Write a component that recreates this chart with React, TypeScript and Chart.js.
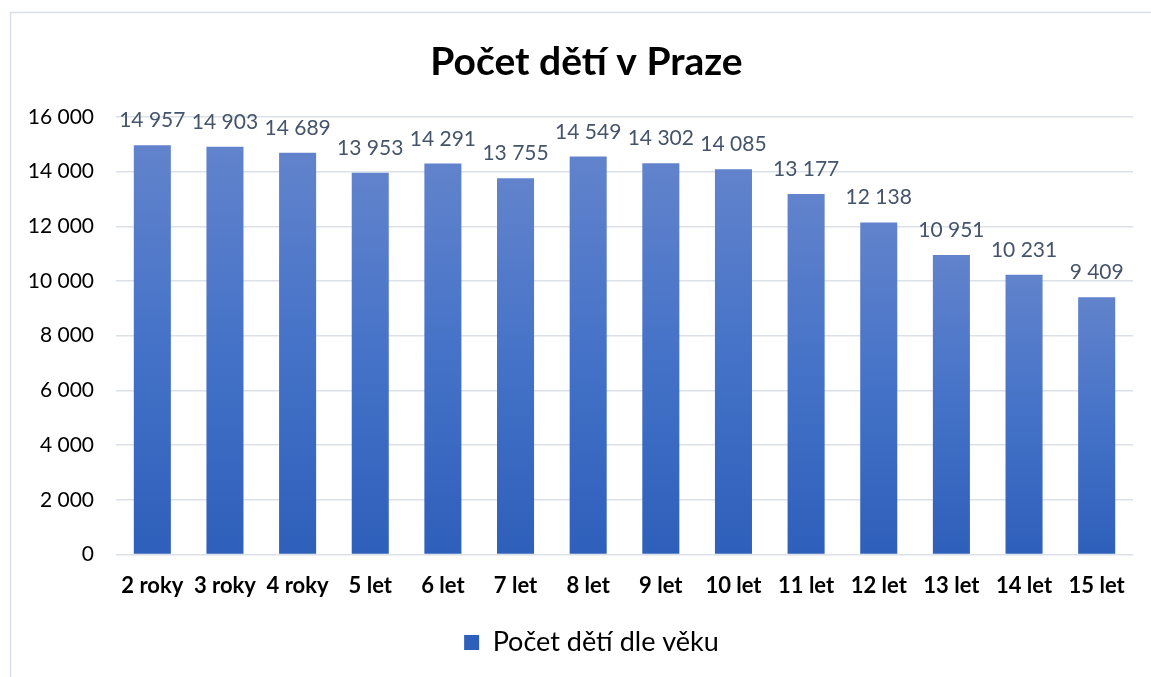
import React, { useEffect, useRef } from "react";
import { Chart, registerables } from "chart.js";

Chart.register(...registerables);

const categories = ["2 roky", "3 roky", "4 roky", "5 let", "6 let", "7 let", "8 let", "9 let", "10 let", "11 let", "12 let", "13 let", "14 let", "15 let"];
const values = [14957, 14903, 14689, 13953, 14291, 13755, 14549, 14302, 14085, 13177, 12138, 10951, 10231, 9409];
const seriesName = "Počet dětí dle věku";
const chartTitle = "Počet dětí v Praze";
const yMin = 0;
const yMax = 16000;
const yStep = 2000;

const FONT = "Lato, 'Open Sans', sans-serif";
const fmt = (v: number) => String(Math.round(v)).replace(/\B(?=(\d{3})+(?!\d))/g, " ");

const frameAndLabels = {
  id: "frameAndLabels",
  afterLayout(chart: any) {
    const t = chart.titleBlock;
    if (t) {
      t.left += 15;
      t.right += 15;
    }
    const l = chart.legend;
    if (l) {
      l.left += 20;
      l.right += 20;
      l.top -= 0;
      l.bottom -= 0;
    }
  },
  beforeDraw(chart: any) {
    const c = chart.ctx;
    c.save();
    c.fillStyle = "#ffffff";
    c.fillRect(0, 0, chart.width, chart.height);
    c.strokeStyle = "#D9DEE8";
    c.lineWidth = 1.5;
    c.beginPath();
    c.moveTo(10.5, chart.height);
    c.lineTo(10.5, 12.5);
    c.lineTo(chart.width, 12.5);
    c.stroke();
    c.restore();
  },
  afterDatasetsDraw(chart: any) {
    const c = chart.ctx;
    const meta = chart.getDatasetMeta(0);
    c.save();
    c.font = `21px ${FONT}`;
    c.fillStyle = "#44546A";
    c.textAlign = "center";
    c.textBaseline = "alphabetic";
    meta.data.forEach((el: any, i: number) => {
      c.fillText(fmt(values[i]), el.x, el.y - 18);
    });
    c.restore();
  },
};

export default function App() {
  const ref = useRef<HTMLCanvasElement>(null);
  useEffect(() => {
    document.body.style.margin = "0";
    document.body.style.overflow = "hidden";
    const canvas = ref.current!;
    const chart = new Chart(canvas, {
      type: "bar",
      data: {
        labels: categories,
        datasets: [
          {
            label: seriesName,
            data: values,
            backgroundColor: (ctx: any) => {
              const ch = ctx.chart;
              if (!ch.chartArea || ctx.type !== "data") return "#4A72C6";
              const yTop = ch.scales.y.getPixelForValue(ctx.raw);
              const yBot = ch.scales.y.getPixelForValue(0);
              const g = ch.ctx.createLinearGradient(0, yTop, 0, yBot);
              g.addColorStop(0, "#6283CC");
              g.addColorStop(0.5, "#4472C8");
              g.addColorStop(1, "#2E5FBA");
              return g;
            },
            borderWidth: 0,
            barPercentage: 0.51,
            categoryPercentage: 1,
          },
        ],
      },
      options: {
        responsive: false,
        animation: false,
        layout: { padding: { left: 10, right: 18, top: 0, bottom: 11 } },
        plugins: {
          title: {
            display: true,
            text: chartTitle,
            color: "#000000",
            font: { family: FONT, size: 39, weight: "bold" },
            padding: { top: 39, bottom: 31 },
          },
          legend: {
            position: "bottom",
            labels: {
              color: "#000000",
              font: { family: FONT, size: 27 },
              boxWidth: 15,
              boxHeight: 15,
              padding: 20,
            },
          },
          tooltip: { enabled: false },
        },
        scales: {
          x: {
            grid: { display: false },
            border: { display: false },
            ticks: {
              color: "#000000",
              font: { family: FONT, size: 22, weight: "bold" },
              padding: 10,
              maxRotation: 0,
              autoSkip: false,
            },
          },
          y: {
            min: yMin,
            max: yMax,
            border: { display: false },
            grid: { color: "#DCE0E7", lineWidth: 1.5, drawTicks: false },
            ticks: {
              stepSize: yStep,
              color: "#000000",
              font: { family: FONT, size: 21 },
              padding: 22,
              callback: (v: any) => fmt(Number(v)),
            },
            afterFit: (s: any) => {
              s.width = 106;
            },
          },
        },
      },
      plugins: [frameAndLabels],
    });
    return () => chart.destroy();
  }, []);
  return (
    <canvas
      ref={ref}
      width={1151}
      height={677}
      style={{ position: "fixed", left: 0, top: 0, width: 1151, height: 677 }}
    />
  );
}
